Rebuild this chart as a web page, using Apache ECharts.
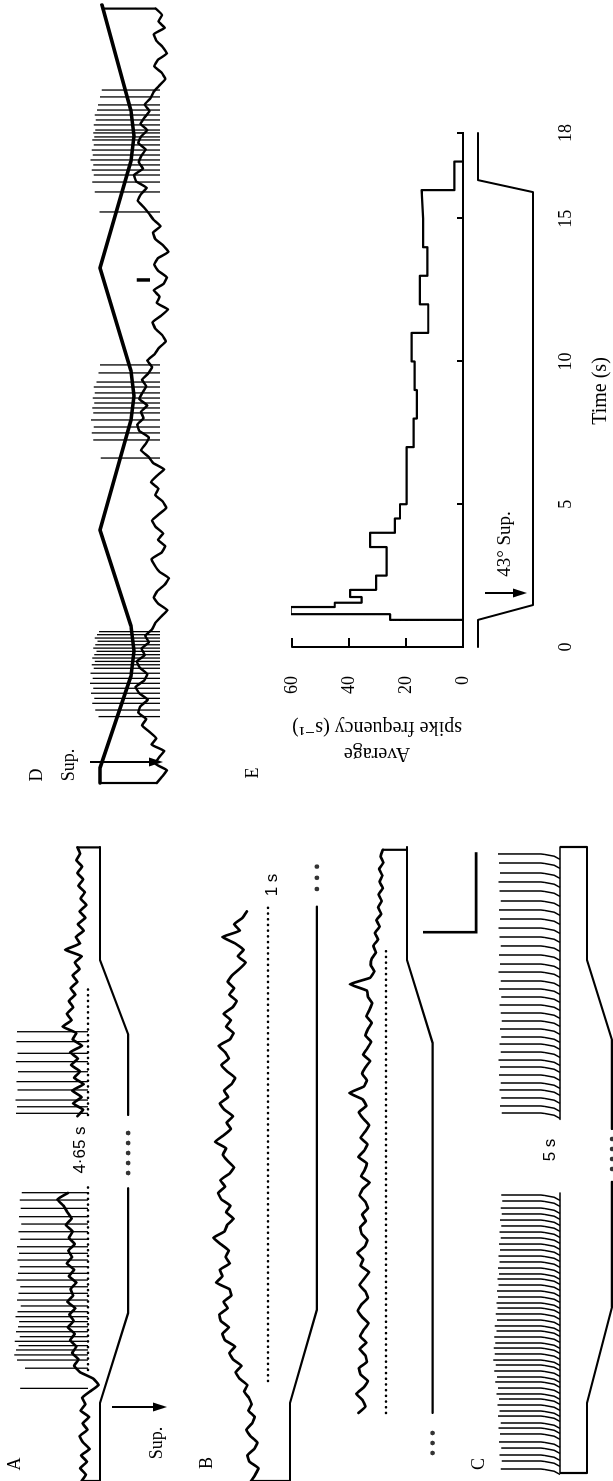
<!DOCTYPE html>
<html>
<head>
<meta charset="utf-8">
<script src="https://cdn.jsdelivr.net/npm/echarts@6/dist/echarts.min.js"></script>
<style>
  html, body { margin: 0; padding: 0; background: #fff; overflow: hidden; width: 613px; height: 1481px; }
  /* the figure is laid out landscape and turned a quarter turn to sit upright on the page */
  #fig { position: absolute; left: 0; top: 0; width: 1481px; height: 613px;
         transform-origin: 0 0; transform: translate(0, 1481px) rotate(-90deg); }
</style>
</head>
<body>
<div id="fig"></div>
<script>
// ---------------- recorded data ----------------
const SAMPLE_DT = 0.04;            // s between trace samples

// A: membrane potential (mV re. resting level), from t = 0; null = time omitted (4.65 s)
const traceA = [1.2, 0.4, 1.5, 0.2, 1.3, -0.3, 0.9, 1.6, 0.1, 1.0, -0.2, 1.4, 0.5, 1.1, -0.4,
  -2.0, -1.0,
  1.5, 2.6, 1.8, 3.0, 2.2, 3.4, 2.5, 3.8, 2.7, 3.5, 2.4, 3.9, 2.8, 3.3, 2.2, 3.6, 2.6, 4.0, 3.0,
  3.7, 2.5, 3.6, 2.9, 4.2, 3.1, 3.9, 4.6, 5.8, 3.8,
  null, null, null, null, null, null, null, null, null, null, null,
  2.0, 0.9, 2.8, 1.2, 3.0, 0.8, 2.6, 1.5, 3.2, 1.9, 3.4, 1.1, 2.9, 2.2,
  4.8, 3.1, 4.0, 2.8, 3.6, 2.4, 3.3, 2.0, 2.9, 1.6, 2.5,
  1.2, 4.3, 1.5, 2.3, 0.8, 1.9, 0.5, 1.6, 0.3, 1.4, 0.6, 1.8, 0.9, 2.0, 1.1, 2.2, 1.5, 2.0];
const spikeTimesA = [0.579, 0.705, 0.756, 0.788, 0.819, 0.846, 0.873, 0.902, 0.933, 0.964,
  0.996, 1.027, 1.058, 1.094, 1.131, 1.173, 1.214, 1.256, 1.298, 1.339,
  1.381, 1.423, 1.464, 1.511, 1.558, 1.606, 1.652, 1.704, 1.756, 1.802,
  2.298, 2.339, 2.381, 2.444, 2.496, 2.558, 2.621, 2.673, 2.746, 2.808];
const spikePeaksA = [12.8, 11.9, 13.4, 13.9, 13.6, 13.1, 13.8, 12.9, 13.6, 13.2,
  13.0, 13.7, 13.3, 12.7, 13.4, 13.1, 12.8, 13.5, 13.2, 12.9,
  13.3, 13.0, 13.4, 12.8, 13.1, 12.6, 13.0, 12.7, 12.9, 12.5,
  13.6, 13.4, 13.7, 13.3, 13.5, 13.2, 13.6, 13.3, 13.5, 13.4];
// supination (deg) vs time (s)
const stimA = [[0, 0], [0.4875, 0], [1.05, 22], [1.83, 22], null, [2.2875, 22], [2.79, 22], [3.256, 0], [3.9625, 0]];
const gapDotsA = [1.925, 1.9875, 2.05, 2.1125, 2.175];
const restLineA = [[0.694, 0], [1.869, 0], null, [2.2875, 0], [3.094, 0]];

// B: two segments of one recording, 1 s apart
const traceB1 = [3.2, 2.4, 1.8, 3.5, 3.9, 2.6, 2.0, 3.3, 4.1, 3.0, 2.5, 3.7, 3.1, 3.6,
  4.5, 3.9, 5.4, 6.1, 5.0, 6.6, 7.3, 6.2, 8.1, 8.6, 7.4, 8.9,
  9.2, 7.6, 8.4, 6.9, 7.3, 9.8, 8.6, 9.1, 7.2, 8.0,
  7.4, 8.9, 10.3, 8.2, 7.7, 6.5, 7.9, 7.1, 8.8, 9.4,
  8.1, 9.0, 7.3, 6.4, 7.6, 8.5, 7.9, 10.0, 8.4, 7.0,
  7.8, 6.6, 8.2, 9.1, 7.5, 8.3, 6.9, 6.2, 7.7, 8.8,
  7.4, 8.1, 9.3, 7.2, 6.5, 7.9, 7.0, 8.4, 6.7, 5.9,
  7.3, 6.4, 7.6, 6.8,
  5.4, 4.2, 5.7, 4.6, 6.2, 8.6, 5.3, 6.4, 4.8, 4.0];
const stimB1 = [[0, 0], [0.4875, 0], [1.07, 21], [3.59, 21]];
const contDotsB1 = [3.70, 3.77, 3.84];
const restLineB1 = [[0.625, 0], [3.59, 0]];

const startB2 = 0.425;
const traceB2 = [5.2, 3.9, 4.4, 5.6, 4.2, 3.4, 4.8, 5.1, 3.6, 3.9, 5.0,
  3.7, 4.9, 4.2, 3.3, 4.5, 5.3, 4.6, 3.4, 3.9, 5.0, 4.1, 3.2, 4.8, 4.3, 5.4, 4.0, 3.5, 4.6, 4.9, 3.8,
  4.5, 3.4, 3.9, 5.0, 4.4, 3.1, 4.7, 4.0, 3.6, 5.2, 4.1, 3.5, 4.8, 3.9, 3.2, 4.3, 5.1, 3.7, 4.4, 6.9,
  4.2, 3.6, 4.5, 3.9, 3.0, 4.3, 3.5, 2.8, 3.9, 3.4, 2.7, 3.7, 3.1, 2.6, 3.4, 3.6, 6.8, 3.0, 2.2, 2.9,
  2.7, 1.9, 2.4, 1.5, 2.1, 1.2, 1.8, 0.9, 1.5, 0.8, 1.4, 0.6, 1.2, 0.7, 1.3, 0.5, 1.0, 0.6];
const stimB2 = [[0.425, 20], [2.7375, 20], [3.256, 0], [3.9625, 0]];
const contDotsB2 = [0.175, 0.2375, 0.3];
const restLineB2 = [[0.425, 0], [3.3375, 0]];
const SCALE_BAR = { seconds: 0.5, millivolts: 10 };

// C: regularly firing unit, spike times (s) and peak (mV)
const spikeTimesC = [0.075, 0.125, 0.1625, 0.206, 0.244, 0.294, 0.331, 0.3625, 0.406, 0.4375,
  0.475, 0.5125, 0.544, 0.581, 0.619, 0.65, 0.6875, 0.725, 0.756, 0.794,
  0.831, 0.8625, 0.9, 0.9375, 0.969, 1.006, 1.044, 1.081, 1.1125, 1.15,
  1.1875, 1.225, 1.2625, 1.294, 1.331, 1.369, 1.406, 1.444, 1.481, 1.519,
  1.556, 1.594, 1.631, 1.669, 1.706, 1.75, 1.7875,
  2.3, 2.344, 2.394, 2.444, 2.4875, 2.5375, 2.5875, 2.631, 2.681, 2.731,
  2.775, 2.825, 2.875, 2.925, 2.975, 3.025, 3.075, 3.125, 3.181, 3.231,
  3.2875, 3.344, 3.4, 3.456, 3.5125, 3.569, 3.625, 3.6875, 3.744, 3.8, 3.8625, 3.919];
const spikePeaksC = [11.2, 11.0, 11.4, 11.1, 11.5, 11.3, 11.6, 11.2, 11.7, 11.4,
  11.8, 11.5, 12.0, 11.7, 12.2, 11.9, 12.4, 12.1, 12.6, 12.3,
  12.5, 12.2, 12.4, 12.0, 12.3, 11.9, 12.1, 11.8, 12.0, 11.7,
  11.9, 11.6, 11.8, 11.5, 11.7, 11.4, 11.6, 11.3, 11.5, 11.2,
  11.4, 11.1, 11.3, 11.0, 11.2, 10.9, 11.1,
  11.0, 11.3, 11.1, 11.4, 11.2, 11.5, 11.3, 11.6, 11.2, 11.4,
  11.1, 11.3, 11.0, 11.2, 11.4, 11.1, 11.5, 11.2, 11.6, 11.3,
  11.5, 11.2, 11.4, 11.6, 11.3, 11.5, 11.2, 11.4, 11.6, 11.3, 11.5, 11.7];
const baselineC = [[0.05, 0], [1.8, 0], null, [2.26, 0], [3.9625, 0]];
const stimC = [[0.05, 0], [0.4875, 0], [1.0875, 19.5], [1.87, 19.5], null, [2.2, 19.5], [2.756, 19.5], [3.256, 0], [3.9625, 0]];
const gapDotsC = [1.95, 2.0125, 2.075, 2.1375];

// D: triangular supination, trace from t = 0
const traceD = [0.6, -0.4, -1.3, 0.9, 0.2, -0.8, 1.6, 0.7,
  2.0, 3.4, 2.6, 4.1, 3.7, 2.3, 3.9, 4.6, 3.0, 2.4, 3.8, 4.4, 2.9, 3.5, 2.1, 2.8, 1.5,
  0.9, -0.2, -1.4, 0.3, 1.2, 0.5, -0.9, -1.7, 0.1, 1.0, 1.6, -0.3, -1.0, 0.4, -0.6,
  0.8, 1.5, 0.2, -1.2, -0.5, 0.9, 0.3, 1.7, 0.6, -0.8, 1.3,
  2.2, 3.6, 2.7, 2.1, 3.9, 4.3, 3.1, 3.6, 2.4, 3.9, 3.3, 2.6, 3.4, 2.2, 1.5, 2.4, 1.0,
  0.2, -1.1, -0.4, 0.9, 1.4, -0.2, -1.5, 0.6, 0.1, 1.2, -0.7, -1.3, 0.3, 1.1, 0.4,
  -1.6, -0.6, 0.9, 1.3, -0.1, 1.2, 2.1,
  3.1, 4.2, 3.6, 2.5, 4.5, 4.9, 3.2, 4.0, 3.5, 2.7, 4.1, 3.6, 2.4, 3.7, 2.9, 2.0, 2.9, 1.8, 1.2,
  0.1, -1.0, -0.3, 1.1, 0.4, -1.3, -0.5, 0.7, 1.2, -0.9, 0.3, -0.4, 0.8];
const spikeTimesD = [0.415, 0.456, 0.498, 0.529, 0.561, 0.592, 0.623, 0.654, 0.686, 0.717,
  0.739, 0.760, 0.781, 0.802, 0.823, 0.843, 0.864, 0.886, 0.906, 0.927, 0.946,
  2.031, 2.144, 2.188, 2.225, 2.269, 2.313, 2.344, 2.375, 2.406, 2.438, 2.475, 2.506, 2.563, 2.613,
  3.569, 3.694, 3.756, 3.800, 3.831, 3.863, 3.894, 3.925, 3.956, 3.988, 4.019,
  4.038, 4.063, 4.081, 4.113, 4.144, 4.175, 4.206, 4.238, 4.288, 4.331];
const spikePeaksD = [11.6, 12.2, 12.8, 12.4, 13.0, 12.6, 13.2, 12.7, 13.1, 12.5,
  12.9, 12.3, 12.8, 12.4, 12.0, 12.6, 12.2, 11.8, 12.3, 11.9, 11.5,
  11.2, 12.6, 12.9, 12.5, 13.0, 12.6, 12.8, 12.4, 12.7, 12.3, 12.5, 12.0, 11.6, 11.3,
  11.4, 12.3, 12.8, 12.5, 12.9, 12.6, 13.1, 12.7, 12.9, 12.5, 12.8,
  12.4, 12.6, 12.2, 12.5, 12.1, 12.3, 11.9, 11.7, 11.3, 11.0];
const markD = [[3.144, 1.9], [3.144, 4.4]];
const stimD = [[0, 0], [0.094, 0], [0.669, 24.2], [0.825, 26.6], [0.981, 24.2], [1.581, 0],
  [2.269, 24.2], [2.419, 26.6], [2.575, 24.2], [3.219, 0],
  [3.888, 24.2], [4.044, 26.6], [4.2, 24.2], [4.8625, 1.5]];

// E: average spike frequency (s^-1) in bins, and the 43 deg supination
const freqBinEdges = [0, 0.95, 1.15, 1.4, 1.55, 1.75, 2.0, 2.5, 3.5, 4.0, 4.5, 5.0, 7.0,
  8.0, 9.0, 10.0, 11.0, 12.0, 13.0, 14.0, 15.0, 16.0, 17.0, 18.0];
const freqValues = [0, 25.6, 60.5, 45, 35.6, 39.6, 30.5, 26.8, 32.6, 23.9, 22.1, 19.8,
  17.3, 16.2, 17.0, 18.0, 12.2, 15.1, 12.5, 14.0, 14.5, 3.0, 0];
const zeroLineE = [[0, 0], [18, 0]];
const stimE = [[0, 0], [0.95, 0], [1.47, 43], [15.93, 43], [16.35, 0], [18, 0]];
const timeTicksE = [0, 5, 10, 15, 18];

// ---------------- layout (figure px, landscape) ----------------
const PX_PER_S = 160, PX_PER_MV = 5.3, PX_PER_DEG = 1.28;
const SERIF = '"Liberation Serif", "DejaVu Serif", serif';
const SANS = '"Liberation Sans", "DejaVu Sans", sans-serif';

const grids = [], xAxes = [], yAxes = [], series = [];

function addGrid(left, top, width, height, xMin, pxPerX, zeroY, pxPerY, inverse) {
  const i = grids.length;
  grids.push({ left, top, width, height, show: false });
  xAxes.push({ type: 'value', gridIndex: i, min: xMin, max: xMin + width / pxPerX, show: false });
  const up = (zeroY - top) / pxPerY, down = (top + height - zeroY) / pxPerY;
  yAxes.push(inverse
    ? { type: 'value', gridIndex: i, min: -up, max: down, inverse: true, show: false }
    : { type: 'value', gridIndex: i, min: -down, max: up, show: false });
  return i;
}

const G = {
  aTrace: addGrid(0, 0, 640, 140, 0, PX_PER_S, 88, PX_PER_MV, false),
  aStim: addGrid(0, 90, 640, 50, 0, PX_PER_S, 100, PX_PER_DEG, true),
  b1Trace: addGrid(0, 190, 640, 90, 0, PX_PER_S, 268, PX_PER_MV, false),
  b1Stim: addGrid(0, 280, 640, 45, 0, PX_PER_S, 290, PX_PER_DEG, true),
  b2Trace: addGrid(0, 330, 640, 155, 0, PX_PER_S, 386, PX_PER_MV, false),
  b2Stim: addGrid(0, 395, 640, 45, 0, PX_PER_S, 407, PX_PER_DEG, true),
  cTrace: addGrid(0, 480, 640, 95, 0, PX_PER_S, 560, PX_PER_MV, false),
  cStim: addGrid(0, 570, 640, 43, 0, PX_PER_S, 587, PX_PER_DEG, true),
  dTrace: addGrid(698, 70, 783, 110, 0, PX_PER_S, 160, PX_PER_MV, false),
  dStim: addGrid(698, 85, 783, 55, 0, PX_PER_S, 100, PX_PER_DEG, true),
  eStim: addGrid(834, 465, 514, 75, 0, 514 / 18, 478, PX_PER_DEG, true)
};

// E histogram grid with visible axes
const eFreq = grids.length;
grids.push({ left: 834, top: 292, width: 514, height: 171, show: false });
xAxes.push({
  type: 'value', gridIndex: eFreq, min: 0, max: 18, position: 'bottom', offset: 85,
  axisLine: { show: true, lineStyle: { color: '#000', width: 2 } },
  axisTick: { show: true, inside: true, length: 6, customValues: timeTicksE, lineStyle: { color: '#000', width: 2 } },
  axisLabel: { show: true, customValues: timeTicksE, margin: 9, color: '#000', fontFamily: SERIF, fontSize: 18 },
  splitLine: { show: false }
});
yAxes.push({
  type: 'value', gridIndex: eFreq, min: 0, max: 60, interval: 20, position: 'left', offset: 21,
  axisLine: { show: true, lineStyle: { color: '#000', width: 2 } },
  axisTick: { show: true, inside: true, length: 9, lineStyle: { color: '#000', width: 2 } },
  axisLabel: { show: true, margin: 8, color: '#000', fontFamily: SERIF, fontSize: 18 },
  splitLine: { show: false }
});

// ---------------- series helpers ----------------
function line(g, data, width, extra) {
  return Object.assign({
    type: 'line', xAxisIndex: g, yAxisIndex: g, data, symbol: 'none', silent: true,
    animation: false, lineStyle: { color: '#000', width, cap: 'round', join: 'round' }
  }, extra || {});
}
function addPath(g, pts, width, extra) {
  let seg = [];
  pts.concat([null]).forEach(p => {
    if (p === null) { if (seg.length) series.push(line(g, seg, width, extra)); seg = []; }
    else seg.push(p);
  });
}
function sampled(values, t0) {
  return values.map((v, i) => v === null ? null : [+(t0 + i * SAMPLE_DT).toFixed(4), v]);
}
function addTrace(g, values, t0, width) {
  addPath(g, sampled(values, t0), width, { smooth: 0.1 });
}
function addDotted(g, pts) {
  addPath(g, pts, 2.6, { lineStyle: { color: '#000', width: 2.6, type: [0.1, 5.6], cap: 'round' } });
}
function addDots(g, times, level) {
  series.push({
    type: 'scatter', xAxisIndex: g, yAxisIndex: g, data: times.map(t => [t, level]),
    symbol: 'circle', symbolSize: 4.6, itemStyle: { color: '#000' }, silent: true, animation: false
  });
}
function addSpikes(g, times, peaks, width) {
  series.push({
    type: 'custom', xAxisIndex: g, yAxisIndex: g, silent: true, animation: false,
    data: times.map((t, i) => [t, peaks[i]]),
    renderItem(params, api) {
      const a = api.coord([api.value(0), 0]), b = api.coord([api.value(0), api.value(1)]);
      return { type: 'line', shape: { x1: a[0], y1: a[1], x2: b[0], y2: b[1] },
               style: { stroke: '#000', lineWidth: width } };
    }
  });
}
// spikes of C rise out of a short pacemaker ramp
function addRampSpikes(g, times, peaks, width) {
  series.push({
    type: 'custom', xAxisIndex: g, yAxisIndex: g, silent: true, animation: false,
    data: times.map((t, i) => [t, peaks[i]]),
    renderItem(params, api) {
      const t = api.value(0);
      const pts = [api.coord([t - 0.034, 0]), api.coord([t - 0.014, 1.1]), api.coord([t - 0.003, 2.9]),
                   api.coord([t, 3.6]), api.coord([t, api.value(1)])];
      return { type: 'polyline', shape: { points: pts },
               style: { stroke: '#000', lineWidth: width, fill: null } };
    }
  });
}

// ---------------- panels ----------------
// A
addDotted(G.aTrace, restLineA);
addTrace(G.aTrace, traceA, 0, 2.7);
addSpikes(G.aTrace, spikeTimesA, spikePeaksA, 1.3);
addPath(G.aStim, stimA, 2.2);
addDots(G.aStim, gapDotsA, stimA[2][1]);

// B
addDotted(G.b1Trace, restLineB1);
addTrace(G.b1Trace, traceB1, 0, 2.7);
addPath(G.b1Stim, stimB1, 2.2);
addDots(G.b1Stim, contDotsB1, stimB1[2][1]);
addDotted(G.b2Trace, restLineB2);
addTrace(G.b2Trace, traceB2, startB2, 2.7);
addPath(G.b2Stim, stimB2, 2.2);
addDots(G.b2Stim, contDotsB2, stimB2[0][1]);
// calibration: 0.5 s, 10 mV
const barT = 3.43, barV = -17;
addPath(G.b2Trace, [[barT, barV + SCALE_BAR.millivolts], [barT, barV], [barT + SCALE_BAR.seconds, barV]], 2.6,
        { lineStyle: { color: '#000', width: 2.6, cap: 'butt', join: 'miter' } });

// C
addPath(G.cTrace, baselineC, 1.6);
addRampSpikes(G.cTrace, spikeTimesC, spikePeaksC, 1.5);
addPath(G.cStim, stimC, 2.2);
addDots(G.cStim, gapDotsC, stimC[2][1]);

// D
addTrace(G.dTrace, traceD, 0, 2.5);
addSpikes(G.dTrace, spikeTimesD, spikePeaksD, 1.3);
addPath(G.dTrace, markD, 3.5, { lineStyle: { color: '#000', width: 3.5, cap: 'butt' } });
addPath(G.dStim, stimD, 3.6);

// E
series.push(line(eFreq, zeroLineE, 2));
series.push(line(eFreq, freqBinEdges.map((t, i) => [t, i < freqValues.length ? freqValues[i] : 0]), 2.2, { step: 'end' }));
addPath(G.eStim, stimE, 2);

const chart = echarts.init(document.getElementById('fig'), null, { renderer: 'canvas', width: 1481, height: 613 });
chart.setOption({
  backgroundColor: '#fff', animation: false,
  grid: grids, xAxis: xAxes, yAxis: yAxes, series
});

// ---------------- annotations ----------------
function text(str, x, y, font, rot) {
  return { type: 'text', x, y, rotation: rot || 0, z: 100, silent: true,
           style: { text: str, font, fill: '#000', align: 'center', verticalAlign: 'middle' } };
}
function arrow(x, y1, y2) {
  const dir = Math.sign(y2 - y1), head = 14, half = 4.5;
  return [
    { type: 'line', z: 100, silent: true, shape: { x1: x, y1, x2: x, y2: y2 - dir * head * 0.7 },
      style: { stroke: '#000', lineWidth: 2 } },
    { type: 'polygon', z: 100, silent: true,
      shape: { points: [[x - half, y2 - dir * head], [x + half, y2 - dir * head], [x, y2]] },
      style: { fill: '#000' } }
  ];
}
function cap(gTrace, gStim, t, vTrace, vStim) {
  const a = chart.convertToPixel({ gridIndex: gTrace }, [t, vTrace]);
  const b = chart.convertToPixel({ gridIndex: gStim }, [t, vStim]);
  return { type: 'line', z: 50, silent: true, shape: { x1: a[0], y1: a[1], x2: b[0], y2: b[1] },
           style: { stroke: '#000', lineWidth: 2.2 } };
}
const lastA = traceA.length - 1, lastB2 = traceB2.length - 1, lastD = traceD.length - 1;
const labelFont = '18px ' + SERIF, numFont = '17px ' + SANS, axisFont = '20px ' + SERIF;

const graphics = [
  text('A', 17, 15, labelFont),
  text('Sup.', 38, 157, labelFont),
  text('4·65 s', 331, 80, numFont),
  text('B', 18, 207, labelFont),
  text('1 s', 596, 272, numFont),
  text('C', 17, 479, labelFont),
  text('5 s', 331, 550, numFont),
  text('D', 706, 37, labelFont),
  text('Sup.', 716, 69, labelFont),
  text('E', 708, 253, labelFont),
  text('43° Sup.', 937, 505, '19px ' + SERIF),
  text('Time (s)', 1090, 601, axisFont),
  text('Average', 728, 377, axisFont, Math.PI / 2),
  text('spike frequency (s⁻¹)', 754, 377, axisFont, Math.PI / 2),
  ...arrow(74, 112, 167),
  ...arrow(719, 90, 163),
  ...arrow(888, 485, 527),
  cap(G.aTrace, G.aStim, 0, traceA[0], stimA[0][1]),
  cap(G.aTrace, G.aStim, lastA * SAMPLE_DT, traceA[lastA], stimA[stimA.length - 1][1]),
  cap(G.b1Trace, G.b1Stim, 0, traceB1[0], stimB1[0][1]),
  cap(G.b2Trace, G.b2Stim, startB2 + lastB2 * SAMPLE_DT, traceB2[lastB2], stimB2[stimB2.length - 1][1]),
  cap(G.cTrace, G.cStim, baselineC[0][0], baselineC[0][1], stimC[0][1]),
  cap(G.cTrace, G.cStim, stimC[stimC.length - 1][0], baselineC[baselineC.length - 1][1], stimC[stimC.length - 1][1]),
  cap(G.dTrace, G.dStim, 0, traceD[0], stimD[0][1]),
  cap(G.dTrace, G.dStim, lastD * SAMPLE_DT, traceD[lastD], stimD[stimD.length - 1][1])
];
chart.setOption({ graphic: graphics });
</script>
</body>
</html>
